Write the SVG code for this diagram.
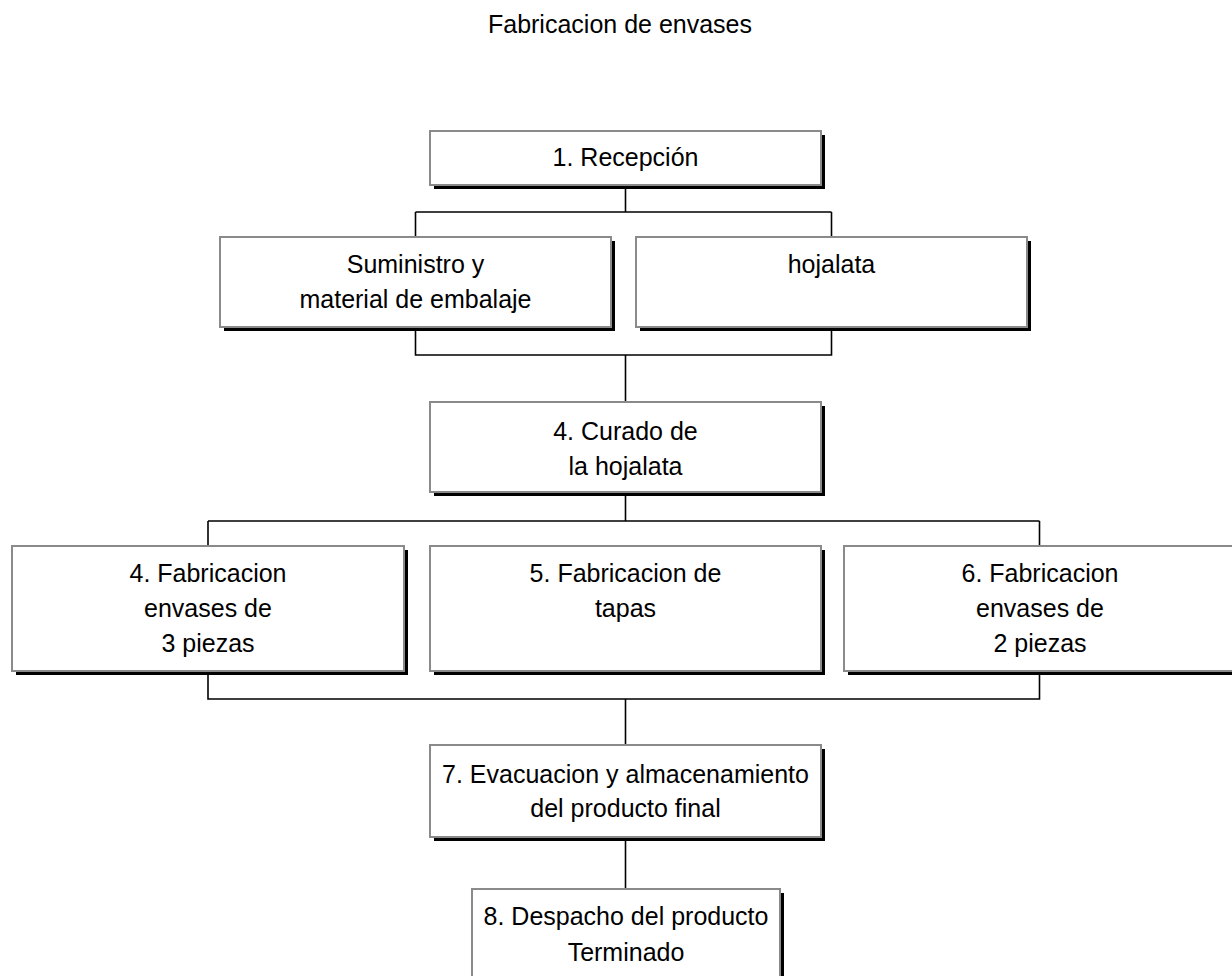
<svg xmlns="http://www.w3.org/2000/svg" width="1232" height="976" viewBox="0 0 1232 976">
<style>
.sh{fill:#000}
.bx{fill:#fff;stroke:#8a8a8a;stroke-width:2}
.t{font-family:"Liberation Sans",Arial,sans-serif;font-size:25px;fill:#000;text-anchor:middle}
.c{fill:none;stroke:#000;stroke-width:1.6}
</style>
<rect width="1232" height="976" fill="#fff"/>
<text class="t" x="620" y="33">Fabricacion de envases</text>
<g id="connectors">
<path class="c" d="M625.5 185V212M415.5 212H831.5M415.5 212V237M831.5 212V237"/>
<path class="c" d="M415.5 327V355H831.5V327M625.5 355V402"/>
<path class="c" d="M625.5 492V521M208 521H1039.5M208 521V546M1039.5 521V546"/>
<path class="c" d="M208 671V699H1039.5V671M625.5 699V745"/>
<path class="c" d="M625.5 837V889"/>
</g>
<g id="n1">
<rect class="sh" x="434" y="135" width="391" height="54"/>
<rect class="bx" x="430" y="131" width="391" height="54"/>
<text class="t" x="625.5" y="166">1. Recepción</text>
</g>
<g id="n2">
<rect class="sh" x="224" y="241" width="391" height="90"/>
<rect class="bx" x="220" y="237" width="391" height="90"/>
<text class="t" x="415.5" y="273">Suministro y</text>
<text class="t" x="415.5" y="308">material de embalaje</text>
</g>
<g id="n3">
<rect class="sh" x="640" y="241" width="391" height="90"/>
<rect class="bx" x="636" y="237" width="391" height="90"/>
<text class="t" x="831.5" y="273">hojalata</text>
</g>
<g id="n4c">
<rect class="sh" x="434" y="406" width="391" height="90"/>
<rect class="bx" x="430" y="402" width="391" height="90"/>
<text class="t" x="625.5" y="440">4. Curado de</text>
<text class="t" x="625.5" y="475">la hojalata</text>
</g>
<g id="n4">
<rect class="sh" x="16" y="550" width="392" height="125"/>
<rect class="bx" x="12" y="546" width="392" height="125"/>
<text class="t" x="208" y="582">4. Fabricacion</text>
<text class="t" x="208" y="617">envases de</text>
<text class="t" x="208" y="652">3 piezas</text>
</g>
<g id="n5">
<rect class="sh" x="434" y="550" width="391" height="125"/>
<rect class="bx" x="430" y="546" width="391" height="125"/>
<text class="t" x="625.5" y="582">5. Fabricacion de</text>
<text class="t" x="625.5" y="617">tapas</text>
</g>
<g id="n6">
<rect class="sh" x="848" y="550" width="392" height="125"/>
<rect class="bx" x="844" y="546" width="392" height="125"/>
<text class="t" x="1040" y="582">6. Fabricacion</text>
<text class="t" x="1040" y="617">envases de</text>
<text class="t" x="1040" y="652">2 piezas</text>
</g>
<g id="n7">
<rect class="sh" x="434" y="749" width="391" height="92"/>
<rect class="bx" x="430" y="745" width="391" height="92"/>
<text class="t" x="625.5" y="783">7. Evacuacion y almacenamiento</text>
<text class="t" x="625.5" y="817">del producto final</text>
</g>
<g id="n8">
<rect class="sh" x="476" y="893" width="308" height="100"/>
<rect class="bx" x="472" y="889" width="308" height="100"/>
<text class="t" x="626" y="925">8. Despacho del producto</text>
<text class="t" x="626" y="961">Terminado</text>
</g>
</svg>
